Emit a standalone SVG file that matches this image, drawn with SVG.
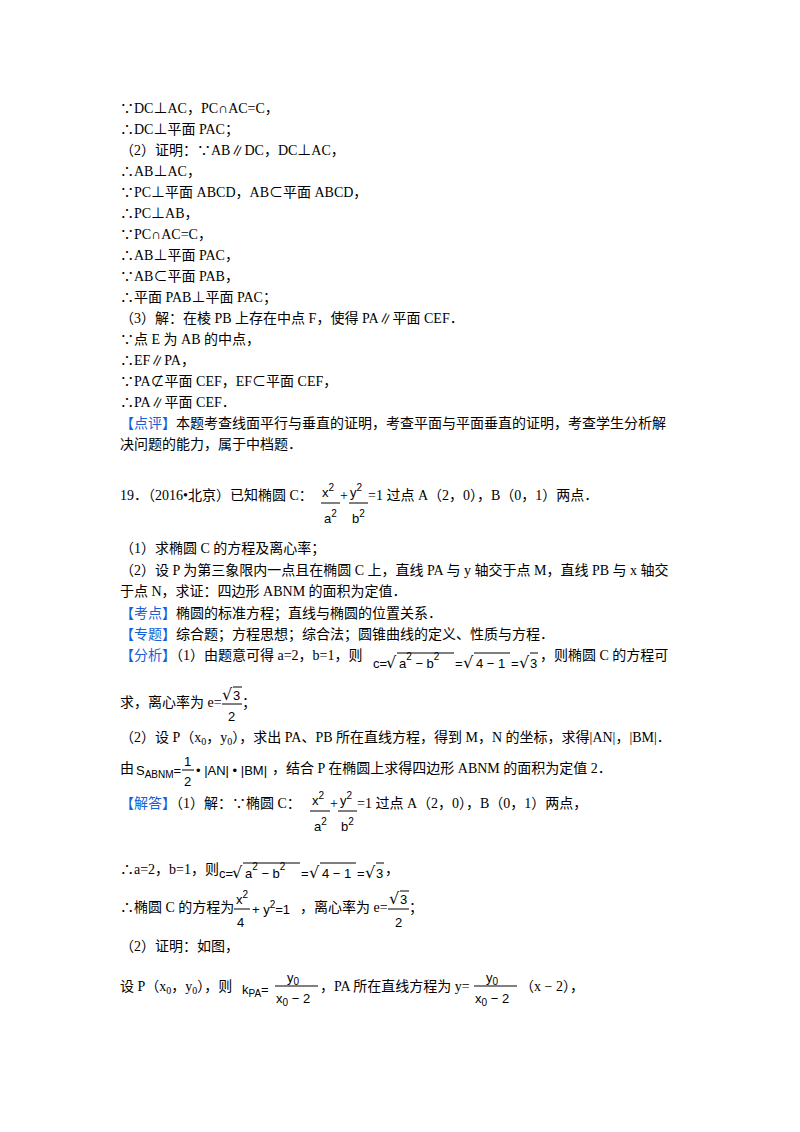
<svg xmlns="http://www.w3.org/2000/svg" width="800" height="1132" viewBox="0 0 800 1132">
<style>
text{font-family:"Liberation Serif","Noto Sans CJK SC",serif;font-size:14px;fill:#000}
.b{fill:#1560d8}
.m{font-family:"Liberation Sans","DejaVu Sans",sans-serif;font-size:13px}
.r{font-family:"DejaVu Sans",sans-serif;font-size:16px}
.s{font-size:10px}
line{stroke:#000;stroke-width:1}
</style>
<rect width="800" height="1132" fill="#fff"/>
<g id="text">
<text x="120" y="113">∵DC⊥AC，PC∩AC=C，</text>
<text x="120" y="134">∴DC⊥平面 PAC；</text>
<text x="120" y="155">（2）证明：∵AB∥DC，DC⊥AC，</text>
<text x="120" y="176">∴AB⊥AC，</text>
<text x="120" y="197">∵PC⊥平面 ABCD，AB⊂平面 ABCD，</text>
<text x="120" y="218">∴PC⊥AB，</text>
<text x="120" y="239">∵PC∩AC=C，</text>
<text x="120" y="260">∴AB⊥平面 PAC，</text>
<text x="120" y="281">∵AB⊂平面 PAB，</text>
<text x="120" y="302">∴平面 PAB⊥平面 PAC；</text>
<text x="120" y="323">（3）解：在棱 PB 上存在中点 F，使得 PA∥平面 CEF．</text>
<text x="120" y="344">∵点 E 为 AB 的中点，</text>
<text x="120" y="365">∴EF∥PA，</text>
<text x="120" y="386">∵PA⊄平面 CEF，EF⊂平面 CEF，</text>
<text x="120" y="407">∴PA∥平面 CEF．</text>
<text x="120" y="428"><tspan class="b">【点评】</tspan>本题考查线面平行与垂直的证明，考查平面与平面垂直的证明，考查学生分析解</text>
<text x="120" y="449">决问题的能力，属于中档题．</text>

<text x="120" y="500">19．（2016•北京）已知椭圆 C：</text>
<text x="322" y="497" class="m">x<tspan class="s" dy="-6">2</tspan></text>
<line x1="321" y1="503" x2="340" y2="503"/>
<text x="324" y="523" class="m">a<tspan class="s" dy="-6">2</tspan></text>
<text x="340" y="500">+</text>
<text x="350" y="497" class="m">y<tspan class="s" dy="-6">2</tspan></text>
<line x1="349" y1="503" x2="368" y2="503"/>
<text x="352" y="523" class="m">b<tspan class="s" dy="-6">2</tspan></text>
<text x="368" y="500">=1 过点 A（2，0），B（0，1）两点．</text>

<text x="120" y="553">（1）求椭圆 C 的方程及离心率；</text>
<text x="120" y="575">（2）设 P 为第三象限内一点且在椭圆 C 上，直线 PA 与 y 轴交于点 M，直线 PB 与 x 轴交</text>
<text x="120" y="596">于点 N，求证：四边形 ABNM 的面积为定值．</text>
<text x="120" y="618"><tspan class="b">【考点】</tspan>椭圆的标准方程；直线与椭圆的位置关系．</text>
<text x="120" y="639"><tspan class="b">【专题】</tspan>综合题；方程思想；综合法；圆锥曲线的定义、性质与方程．</text>
<text x="120" y="660"><tspan class="b">【分析】</tspan>（1）由题意可得 a=2，b=1，则</text>
<g id="sqrt1">
<text x="373" y="668" class="m">c=</text>
<text x="386" y="668" class="r">√</text>
<line x1="397" y1="653" x2="454" y2="653"/>
<text x="399" y="668" class="m">a<tspan class="s" dy="-8">2</tspan><tspan dy="8"> − b</tspan><tspan class="s" dy="-8">2</tspan></text>
<text x="455" y="668" class="m">=</text>
<text x="463" y="668" class="r">√</text>
<line x1="474" y1="653" x2="510" y2="653"/>
<text x="476" y="668" class="m">4 − 1</text>
<text x="511" y="668" class="m">=</text>
<text x="519" y="668" class="r">√</text>
<line x1="530" y1="653" x2="538" y2="653"/>
<text x="530" y="668" class="m">3</text>
</g>
<text x="540" y="660">，则椭圆 C 的方程可</text>
<text x="120" y="707">求，离心率为 e=</text>
<text x="222" y="700" class="r">√</text>
<line x1="233" y1="687" x2="242" y2="687"/>
<text x="233" y="700" class="m">3</text>
<line x1="222" y1="704" x2="242" y2="704"/>
<text x="228" y="721" class="m">2</text>
<text x="242" y="707">；</text>
<text x="120" y="742">（2）设 P（x<tspan class="s" dy="3">0</tspan><tspan dy="-3">，y</tspan><tspan class="s" dy="3">0</tspan><tspan dy="-3">），求出 PA、PB 所在直线方程，得到 M，N 的坐标，求得|AN|，|BM|．</tspan></text>
<text x="120" y="773">由</text>
<text x="136" y="775" class="m">S<tspan class="s" dy="3">ABNM</tspan><tspan dy="-3">=</tspan></text>
<text x="184" y="766" class="m">1</text>
<line x1="182" y1="770" x2="194" y2="770"/>
<text x="184" y="786" class="m">2</text>
<text x="196" y="775" class="m">• |AN| • |BM|</text>
<text x="272" y="773">，结合 P 在椭圆上求得四边形 ABNM 的面积为定值 2．</text>

<text x="120" y="808"><tspan class="b">【解答】</tspan>（1）解：∵椭圆 C：</text>
<text x="312" y="805" class="m">x<tspan class="s" dy="-6">2</tspan></text>
<line x1="310" y1="811" x2="330" y2="811"/>
<text x="314" y="831" class="m">a<tspan class="s" dy="-6">2</tspan></text>
<text x="330" y="808">+</text>
<text x="340" y="805" class="m">y<tspan class="s" dy="-6">2</tspan></text>
<line x1="338" y1="811" x2="357" y2="811"/>
<text x="341" y="831" class="m">b<tspan class="s" dy="-6">2</tspan></text>
<text x="357" y="808">=1 过点 A（2，0），B（0，1）两点，</text>

<text x="120" y="874">∴a=2，b=1，则</text>
<g id="sqrt2">
<text x="219" y="878" class="m">c=</text>
<text x="232" y="878" class="r">√</text>
<line x1="243" y1="863" x2="300" y2="863"/>
<text x="245" y="878" class="m">a<tspan class="s" dy="-8">2</tspan><tspan dy="8"> − b</tspan><tspan class="s" dy="-8">2</tspan></text>
<text x="301" y="878" class="m">=</text>
<text x="309" y="878" class="r">√</text>
<line x1="320" y1="863" x2="356" y2="863"/>
<text x="322" y="878" class="m">4 − 1</text>
<text x="357" y="878" class="m">=</text>
<text x="365" y="878" class="r">√</text>
<line x1="376" y1="863" x2="384" y2="863"/>
<text x="376" y="878" class="m">3</text>
</g>
<text x="385" y="874">，</text>
<text x="120" y="912">∴椭圆 C 的方程为</text>
<text x="236" y="904" class="m">x<tspan class="s" dy="-6">2</tspan></text>
<line x1="234" y1="909" x2="250" y2="909"/>
<text x="237" y="927" class="m">4</text>
<text x="252" y="914" class="m">+ y<tspan class="s" dy="-6">2</tspan><tspan dy="6">=1</tspan></text>
<text x="300" y="912">，离心率为 e=</text>
<text x="389" y="904" class="r">√</text>
<line x1="400" y1="891" x2="409" y2="891"/>
<text x="400" y="904" class="m">3</text>
<line x1="388" y1="909" x2="409" y2="909"/>
<text x="395" y="927" class="m">2</text>
<text x="409" y="912">；</text>
<text x="120" y="951">（2）证明：如图，</text>
<text x="120" y="991">设 P（x<tspan class="s" dy="3">0</tspan><tspan dy="-3">，y</tspan><tspan class="s" dy="3">0</tspan><tspan dy="-3">），则</tspan></text>
<text x="242" y="994" class="m">k<tspan class="s" dy="3">PA</tspan><tspan dy="-3">=</tspan></text>
<text x="287" y="982" class="m">y<tspan class="s" dy="3">0</tspan></text>
<line x1="275" y1="986" x2="318" y2="986"/>
<text x="276" y="1003" class="m">x<tspan class="s" dy="3">0</tspan><tspan dy="-3"> − 2</tspan></text>
<text x="320" y="991">，PA 所在直线方程为 y=</text>
<text x="486" y="982" class="m">y<tspan class="s" dy="3">0</tspan></text>
<line x1="474" y1="986" x2="517" y2="986"/>
<text x="475" y="1003" class="m">x<tspan class="s" dy="3">0</tspan><tspan dy="-3"> − 2</tspan></text>
<text x="520" y="991">（x − 2），</text>
</g>
</svg>
